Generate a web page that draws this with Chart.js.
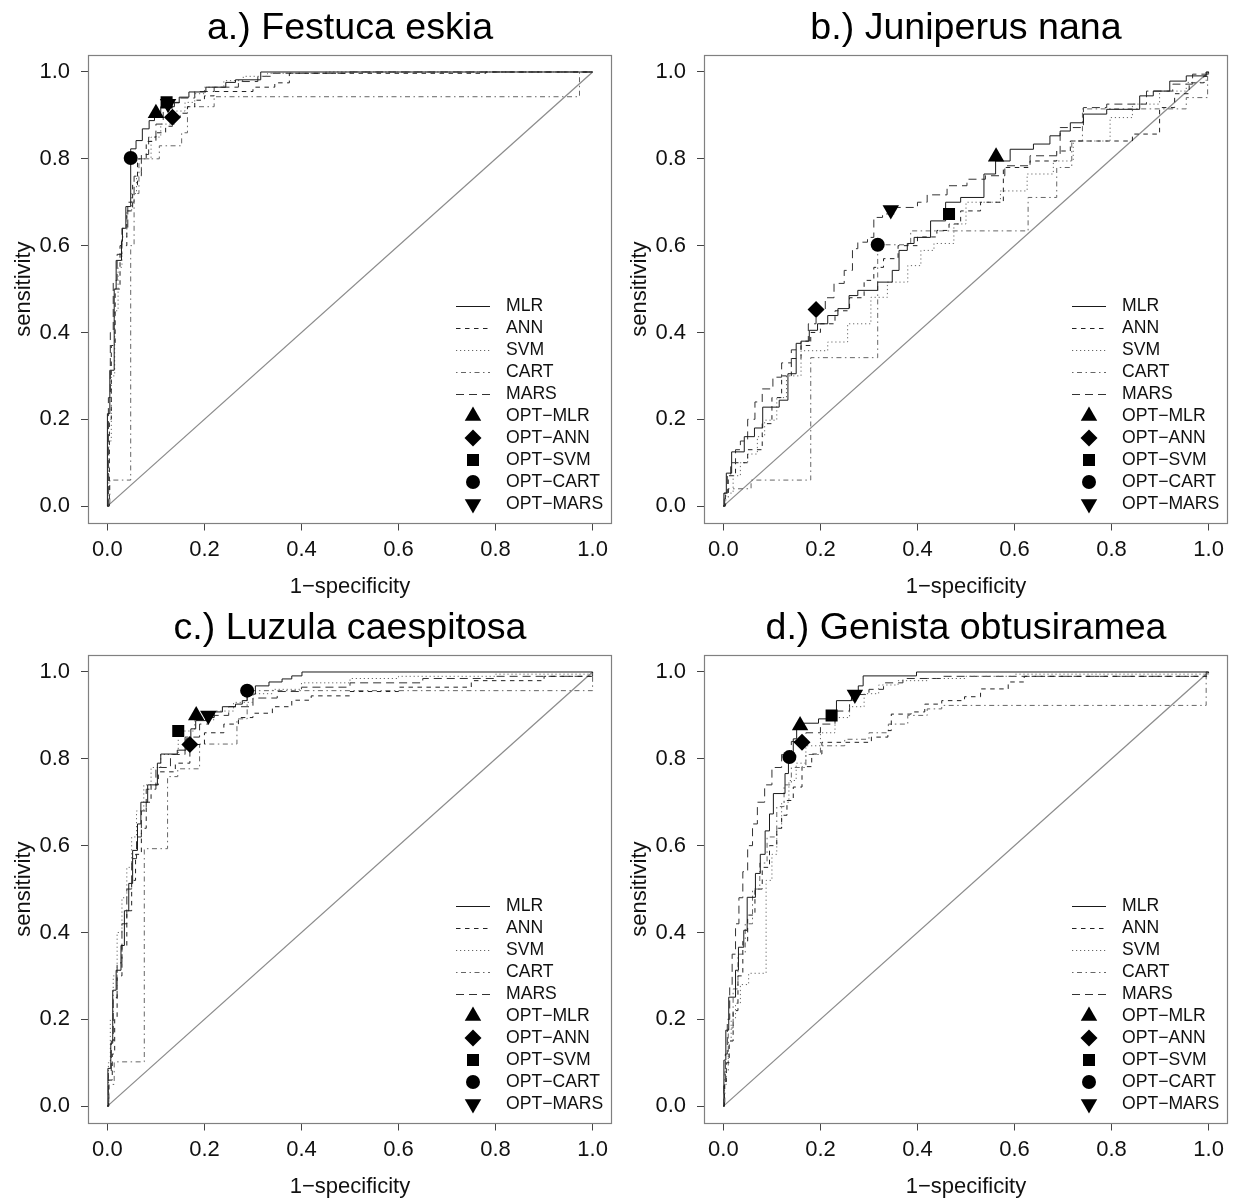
<!DOCTYPE html>
<html><head><meta charset="utf-8">
<script src="https://cdn.jsdelivr.net/npm/chart.js@4.4.1/dist/chart.umd.min.js"></script>
<style>
html,body{margin:0;padding:0;background:#fff;}
#wrap{position:relative;width:1233px;height:1199px;background:#fff;}
.p{position:absolute;width:616px;height:600px;}
</style></head><body>
<div id="wrap">
<div class="p" style="left:0;top:0"><canvas id="c0" width="616" height="600"></canvas></div>
<div class="p" style="left:616px;top:0"><canvas id="c1" width="616" height="600"></canvas></div>
<div class="p" style="left:0;top:600px"><canvas id="c2" width="616" height="600"></canvas></div>
<div class="p" style="left:616px;top:600px"><canvas id="c3" width="616" height="600"></canvas></div>
</div>
<script>
// ---------------- DATA ----------------
const methods = ['MLR','ANN','SVM','CART','MARS'];
const panelTitles = ['a.) Festuca eskia','b.) Juniperus nana','c.) Luzula caespitosa','d.) Genista obtusiramea'];
const xTickValues = [0,0.2,0.4,0.6,0.8,1.0];
const yTickValues = [0,0.2,0.4,0.6,0.8,1.0];
const tickLabels = ['0.0','0.2','0.4','0.6','0.8','1.0'];
const xTitle = '1\u2212specificity';
const yTitle = 'sensitivity';
const diagonal = [[0,0],[1,1]];

// ROC curves: [1-specificity, sensitivity] step corners
const festuca_MLR = [[0,0],[0,0.213],[0.005,0.313],[0.014,0.5],[0.018,0.566],[0.029,0.61],[0.031,0.64],[0.038,0.69],[0.048,0.823],[0.059,0.842],[0.072,0.869],[0.086,0.888],[0.097,0.906],[0.11,0.92],[0.138,0.929],[0.148,0.942],[0.168,0.954],[0.203,0.965],[0.244,0.976],[0.264,0.982],[0.316,1.0],[1,1]];
const festuca_ANN = [[0,0],[0.004,0.2],[0.008,0.37],[0.016,0.5],[0.026,0.6],[0.04,0.68],[0.052,0.74],[0.062,0.8],[0.08,0.84],[0.1,0.86],[0.12,0.875],[0.134,0.896],[0.15,0.905],[0.165,0.92],[0.18,0.935],[0.2,0.945],[0.22,0.955],[0.3,0.965],[0.345,0.975],[0.375,0.997],[0.78,1.0],[1,1]];
const festuca_SVM = [[0,0],[0.003,0.15],[0.008,0.3],[0.015,0.45],[0.022,0.55],[0.03,0.62],[0.04,0.68],[0.05,0.72],[0.06,0.76],[0.07,0.8],[0.09,0.85],[0.11,0.88],[0.14,0.91],[0.16,0.93],[0.18,0.95],[0.2,0.965],[0.24,0.98],[0.28,0.99],[0.33,0.997],[0.45,1.0],[1,1]];
const festuca_CART = [[0,0],[0.005,0.06],[0.048,0.6],[0.055,0.72],[0.065,0.8],[0.107,0.83],[0.153,0.86],[0.165,0.92],[0.22,0.943],[0.973,1.0],[1,1]];
const festuca_MARS = [[0,0],[0.002,0.25],[0.006,0.4],[0.012,0.52],[0.02,0.58],[0.03,0.64],[0.042,0.7],[0.055,0.76],[0.07,0.81],[0.085,0.85],[0.1,0.88],[0.115,0.91],[0.125,0.93],[0.15,0.94],[0.18,0.955],[0.22,0.965],[0.27,0.978],[0.31,0.99],[0.34,0.997],[0.5,1.0],[1,1]];
const festuca_opt = [[0.10,0.905],[0.134,0.896],[0.122,0.93],[0.048,0.802],[0.125,0.927]];

const juniperus_MLR = [[0,0],[0.001,0.03],[0.006,0.076],[0.017,0.125],[0.043,0.16],[0.064,0.18],[0.081,0.228],[0.115,0.244],[0.133,0.305],[0.15,0.375],[0.16,0.38],[0.177,0.405],[0.194,0.42],[0.215,0.439],[0.236,0.455],[0.259,0.485],[0.277,0.497],[0.318,0.516],[0.348,0.543],[0.362,0.589],[0.379,0.605],[0.393,0.619],[0.427,0.657],[0.458,0.70],[0.489,0.711],[0.537,0.765],[0.561,0.795],[0.591,0.822],[0.639,0.834],[0.673,0.853],[0.694,0.864],[0.715,0.883],[0.742,0.903],[0.79,0.914],[0.858,0.945],[0.886,0.956],[0.92,0.979],[0.954,0.991],[0.995,1.0],[1,1]];
const juniperus_ANN = [[0,0],[0.004,0.03],[0.01,0.07],[0.025,0.1],[0.05,0.13],[0.08,0.19],[0.1,0.25],[0.12,0.3],[0.14,0.34],[0.16,0.37],[0.18,0.4],[0.2,0.42],[0.23,0.45],[0.26,0.48],[0.29,0.52],[0.31,0.55],[0.33,0.57],[0.36,0.6],[0.4,0.62],[0.44,0.635],[0.465,0.65],[0.489,0.68],[0.53,0.70],[0.577,0.78],[0.632,0.795],[0.687,0.818],[0.715,0.841],[0.843,0.857],[0.899,0.918],[0.93,0.95],[0.96,0.975],[0.99,0.99],[1,1]];
const juniperus_SVM = [[0,0],[0.005,0.03],[0.02,0.07],[0.035,0.1],[0.05,0.12],[0.07,0.16],[0.085,0.198],[0.11,0.25],[0.13,0.3],[0.16,0.358],[0.215,0.378],[0.256,0.42],[0.304,0.481],[0.338,0.516],[0.38,0.554],[0.407,0.589],[0.434,0.605],[0.475,0.65],[0.5,0.70],[0.571,0.726],[0.626,0.765],[0.68,0.795],[0.721,0.841],[0.797,0.895],[0.843,0.926],[0.899,0.956],[0.954,0.976],[0.995,1.0],[1,1]];
const juniperus_CART = [[0,0],[0.003,0.02],[0.01,0.04],[0.057,0.06],[0.18,0.342],[0.318,0.602],[0.386,0.634],[0.628,0.711],[0.687,0.78],[0.718,0.841],[0.74,0.915],[0.954,0.941],[0.998,1.0],[1,1]];
const juniperus_MARS = [[0,0],[0.002,0.03],[0.008,0.07],[0.015,0.1],[0.025,0.13],[0.035,0.15],[0.05,0.2],[0.065,0.24],[0.08,0.27],[0.102,0.297],[0.12,0.33],[0.14,0.36],[0.16,0.38],[0.175,0.42],[0.191,0.453],[0.21,0.48],[0.228,0.513],[0.249,0.543],[0.266,0.593],[0.277,0.608],[0.297,0.619],[0.31,0.665],[0.328,0.673],[0.355,0.688],[0.40,0.70],[0.42,0.717],[0.461,0.738],[0.502,0.753],[0.54,0.761],[0.58,0.784],[0.632,0.807],[0.694,0.872],[0.742,0.918],[0.79,0.926],[0.872,0.956],[0.926,0.972],[0.967,0.995],[1,1]];
const juniperus_opt = [[0.562,0.805],[0.191,0.453],[0.465,0.673],[0.318,0.602],[0.345,0.682]];

const luzula_MLR = [[0,0],[0.001,0.087],[0.007,0.145],[0.011,0.267],[0.018,0.313],[0.028,0.37],[0.035,0.45],[0.044,0.513],[0.052,0.589],[0.062,0.65],[0.069,0.70],[0.083,0.74],[0.103,0.79],[0.11,0.811],[0.144,0.82],[0.162,0.846],[0.172,0.869],[0.182,0.888],[0.203,0.895],[0.22,0.908],[0.237,0.92],[0.264,0.926],[0.278,0.934],[0.288,0.949],[0.305,0.968],[0.333,0.977],[0.36,0.984],[0.38,0.991],[0.401,1.0],[1,1]];
const luzula_ANN = [[0,0],[0.003,0.06],[0.01,0.12],[0.015,0.2],[0.02,0.3],[0.03,0.37],[0.04,0.45],[0.05,0.52],[0.058,0.58],[0.07,0.64],[0.08,0.7],[0.09,0.74],[0.105,0.77],[0.14,0.79],[0.17,0.833],[0.2,0.86],[0.24,0.88],[0.27,0.895],[0.3,0.905],[0.34,0.92],[0.38,0.935],[0.42,0.945],[0.5,0.955],[0.6,0.965],[0.75,0.98],[0.9,0.99],[1,1]];
const luzula_SVM = [[0,0],[0.002,0.1],[0.006,0.2],[0.012,0.3],[0.02,0.4],[0.03,0.48],[0.04,0.55],[0.05,0.62],[0.06,0.68],[0.075,0.74],[0.09,0.78],[0.11,0.81],[0.146,0.864],[0.18,0.89],[0.22,0.91],[0.26,0.93],[0.3,0.95],[0.34,0.96],[0.4,0.975],[0.5,0.985],[0.6,0.99],[0.8,0.995],[1,1]];
const luzula_CART = [[0,0],[0.003,0.05],[0.014,0.102],[0.076,0.593],[0.124,0.759],[0.145,0.777],[0.19,0.834],[0.267,0.892],[0.288,0.957],[1,1]];
const luzula_MARS = [[0,0],[0.002,0.08],[0.008,0.15],[0.012,0.25],[0.02,0.33],[0.03,0.42],[0.04,0.5],[0.05,0.57],[0.06,0.62],[0.07,0.68],[0.08,0.73],[0.1,0.78],[0.13,0.81],[0.16,0.85],[0.19,0.88],[0.208,0.9],[0.25,0.92],[0.3,0.94],[0.35,0.955],[0.4,0.965],[0.5,0.975],[0.65,0.985],[0.8,0.99],[1,1]];
const luzula_opt = [[0.183,0.90],[0.17,0.833],[0.146,0.864],[0.288,0.957],[0.208,0.90]];

const genista_MLR = [[0,0],[0.001,0.106],[0.005,0.175],[0.011,0.251],[0.025,0.313],[0.031,0.366],[0.042,0.405],[0.049,0.481],[0.066,0.536],[0.076,0.58],[0.086,0.634],[0.095,0.673],[0.103,0.72],[0.127,0.766],[0.134,0.811],[0.144,0.846],[0.151,0.882],[0.196,0.892],[0.22,0.90],[0.233,0.934],[0.264,0.945],[0.278,0.968],[0.288,0.991],[0.398,1.0],[1,1]];
const genista_ANN = [[0,0],[0.002,0.05],[0.006,0.1],[0.012,0.15],[0.02,0.22],[0.03,0.3],[0.04,0.38],[0.05,0.44],[0.065,0.5],[0.08,0.55],[0.095,0.6],[0.11,0.64],[0.12,0.67],[0.131,0.704],[0.144,0.735],[0.162,0.782],[0.182,0.811],[0.203,0.838],[0.305,0.85],[0.339,0.865],[0.346,0.903],[0.387,0.908],[0.415,0.926],[0.45,0.934],[0.497,0.943],[0.53,0.961],[0.587,0.977],[0.62,0.99],[1,1]];
const genista_SVM = [[0,0],[0.002,0.05],[0.006,0.1],[0.01,0.15],[0.016,0.2],[0.025,0.237],[0.035,0.28],[0.052,0.306],[0.088,0.52],[0.1,0.58],[0.11,0.64],[0.12,0.7],[0.135,0.75],[0.15,0.79],[0.17,0.83],[0.2,0.86],[0.23,0.895],[0.26,0.92],[0.29,0.95],[0.32,0.97],[0.36,0.98],[0.42,0.985],[0.5,0.99],[0.6,0.995],[1,1]];
const genista_CART = [[0,0],[0.003,0.08],[0.01,0.18],[0.02,0.27],[0.03,0.35],[0.045,0.42],[0.06,0.5],[0.075,0.56],[0.09,0.62],[0.11,0.69],[0.125,0.74],[0.14,0.78],[0.17,0.81],[0.2,0.83],[0.25,0.845],[0.3,0.86],[0.34,0.88],[0.38,0.9],[0.42,0.915],[0.45,0.923],[0.995,1.0],[1,1]];
const genista_MARS = [[0,0],[0.001,0.05],[0.004,0.12],[0.008,0.2],[0.013,0.28],[0.018,0.35],[0.025,0.42],[0.032,0.48],[0.04,0.54],[0.05,0.6],[0.06,0.65],[0.07,0.7],[0.085,0.74],[0.1,0.78],[0.12,0.81],[0.14,0.84],[0.17,0.86],[0.2,0.88],[0.23,0.91],[0.26,0.935],[0.271,0.948],[0.3,0.96],[0.33,0.975],[0.37,0.985],[0.45,0.99],[0.995,1.0],[1,1]];
const genista_opt = [[0.158,0.877],[0.162,0.838],[0.223,0.90],[0.136,0.804],[0.271,0.948]];

// ---------------- STYLE ----------------
const FONT = "'Liberation Sans', Arial, Helvetica, sans-serif";
const lineStyle = {
  MLR:{color:'#1a1a1a',dash:[]},
  ANN:{color:'#222222',dash:[4.5,4.5]},
  SVM:{color:'#666666',dash:[1.2,2.8]},
  CART:{color:'#666666',dash:[1.5,3.5,5,3.5]},
  MARS:{color:'#333333',dash:[8,5]}
};
const markStyle = {
  MLR:{style:'triangle',rot:0,r:9.5},
  ANN:{style:'rectRot',rot:0,r:8.5},
  SVM:{style:'rect',rot:0,r:8.5},
  CART:{style:'circle',rot:0,r:7},
  MARS:{style:'triangle',rot:180,r:9.5}
};

const panels = [
  {title:panelTitles[0], curves:[festuca_MLR,festuca_ANN,festuca_SVM,festuca_CART,festuca_MARS], opt:festuca_opt},
  {title:panelTitles[1], curves:[juniperus_MLR,juniperus_ANN,juniperus_SVM,juniperus_CART,juniperus_MARS], opt:juniperus_opt},
  {title:panelTitles[2], curves:[luzula_MLR,luzula_ANN,luzula_SVM,luzula_CART,luzula_MARS], opt:luzula_opt},
  {title:panelTitles[3], curves:[genista_MLR,genista_ANN,genista_SVM,genista_CART,genista_MARS], opt:genista_opt}
];

const toXY = arr => arr.map(p => ({x:p[0], y:p[1]}));

// box around plot region
const boxPlugin = {
  id:'plotBox',
  afterDraw(chart){
    const {ctx, chartArea:ca} = chart;
    ctx.save();
    ctx.strokeStyle = '#808080'; ctx.lineWidth = 1.2;
    ctx.strokeRect(Math.round(ca.left)+0.5, Math.round(ca.top)+0.5, Math.round(ca.right-ca.left)-1, Math.round(ca.bottom-ca.top)-1);
    ctx.restore();
  }
};

// legend inside the plot (R-like, no border)
const insetLegend = {
  id:'insetLegend',
  afterDraw(chart, args, opts){
    const {ctx, chartArea:ca} = chart;
    const items = chart.data.datasets.filter(d => d.legendRank != null).sort((a,b) => a.legendRank - b.legendRank);
    ctx.save();
    ctx.font = opts.fontSize + 'px ' + FONT;
    ctx.textBaseline = 'middle'; ctx.textAlign = 'left';
    items.forEach((d,i) => {
      const y = Math.round(ca.top + opts.top + i*opts.rowHeight);
      const x0 = ca.left + opts.left;
      if (d.showLine) {
        ctx.save();
        ctx.strokeStyle = d.borderColor; ctx.lineWidth = 1;
        ctx.setLineDash(d.borderDash || []);
        ctx.beginPath(); ctx.moveTo(x0, y+0.5); ctx.lineTo(x0+opts.sampleWidth, y+0.5); ctx.stroke();
        ctx.restore();
      } else {
        ctx.save();
        ctx.fillStyle = d.backgroundColor; ctx.strokeStyle = d.borderColor;
        Chart.helpers.drawPoint(ctx, {pointStyle:d.pointStyle, rotation:d.pointRotation||0, radius:d.pointRadius, borderWidth:0}, x0+opts.sampleWidth/2, y);
        ctx.restore();
      }
      ctx.fillStyle = '#111';
      ctx.fillText(d.label, ca.left + opts.textLeft, y);
    });
    ctx.restore();
  }
};

panels.forEach((pn, idx) => {
  const datasets = [];
  // optimal points (drawn on top; later methods over earlier ones, as plotted in R)
  methods.forEach((m,i) => {
    const ms = markStyle[m];
    datasets.push({
      label:'OPT\u2212'+m, data:toXY([pn.opt[i]]), showLine:false, order:4-i,
      pointStyle:ms.style, pointRotation:ms.rot, pointRadius:ms.r, pointHoverRadius:ms.r,
      backgroundColor:'#000', borderColor:'#000', pointBorderWidth:0, legendRank:5+i
    });
  });
  // ROC curves
  methods.forEach((m,i) => {
    const ls = lineStyle[m];
    datasets.push({
      label:m, data:toXY(pn.curves[i]), showLine:true, stepped:'before', order:10,
      borderColor:ls.color, borderDash:ls.dash, borderWidth:1, pointRadius:0, pointHoverRadius:0,
      fill:false, tension:0, legendRank:i
    });
  });
  // reference diagonal
  datasets.push({
    label:'diagonal', data:toXY(diagonal), showLine:true, order:20, borderColor:'#8c8c8c', borderWidth:1.3,
    pointRadius:0, pointHoverRadius:0, fill:false
  });

  new Chart(document.getElementById('c'+idx), {
    type:'scatter',
    data:{datasets},
    plugins:[boxPlugin, insetLegend],
    options:{
      responsive:false, animation:false, devicePixelRatio:1,
      layout:{autoPadding:false, padding:{top:0,right:4,bottom:0,left:0}},
      plugins:{
        legend:{display:false}, tooltip:{enabled:false},
        title:{display:true, text:pn.title, fullSize:false, color:'#000',
               font:{family:FONT, size:37.6, weight:'normal', lineHeight:1.2}, padding:{top:6,bottom:3.5}},
        insetLegend:{left:368, textLeft:418, sampleWidth:34, top:251, rowHeight:22, fontSize:17.6}
      },
      scales:{
        x:{type:'linear', min:-0.04, max:1.04,
           afterBuildTicks:s => { s.ticks = xTickValues.map(v => ({value:v})); },
           afterFit:s => { s.height = 76.5; s.paddingLeft = 0; s.paddingRight = 0; },
           ticks:{autoSkip:false, maxRotation:0, minRotation:0, padding:6, color:'#111',
                  font:{family:FONT, size:22, lineHeight:1.2}, callback:(v,i) => tickLabels[i]},
           grid:{display:true, drawOnChartArea:false, drawTicks:true, tickLength:7, color:'#444', lineWidth:1},
           border:{display:false},
           title:{display:true, text:xTitle, color:'#111', font:{family:FONT, size:22, lineHeight:1.2}, padding:{top:0,bottom:0}}
        },
        y:{type:'linear', min:-0.04, max:1.04,
           afterBuildTicks:s => { s.ticks = yTickValues.map(v => ({value:v})); },
           afterFit:s => { s.width = 88; s.paddingTop = 0; s.paddingBottom = 0; },
           ticks:{autoSkip:false, padding:11, color:'#111',
                  font:{family:FONT, size:22, lineHeight:1.2}, callback:(v,i) => tickLabels[i]},
           grid:{display:true, drawOnChartArea:false, drawTicks:true, tickLength:7, color:'#444', lineWidth:1},
           border:{display:false},
           title:{display:true, text:yTitle, color:'#111', font:{family:FONT, size:22, lineHeight:1.2}, padding:{top:11,bottom:0}}
        }
      }
    }
  });
});
</script>
</body></html>
